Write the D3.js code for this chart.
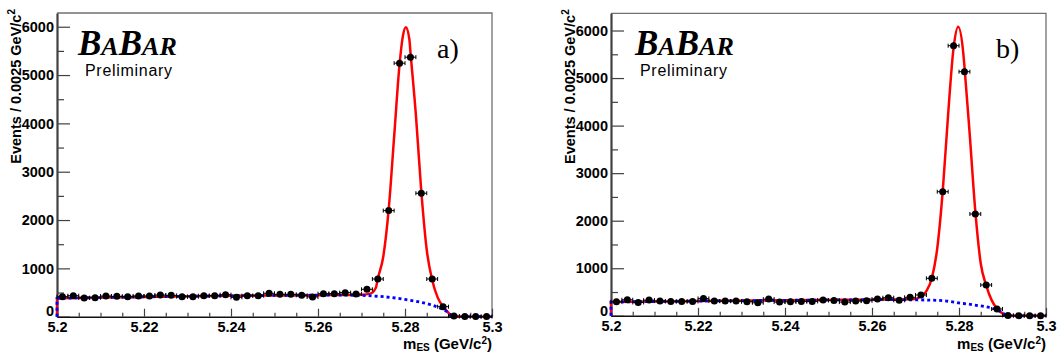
<!DOCTYPE html>
<html>
<head>
<meta charset="utf-8">
<script src="https://cdn.jsdelivr.net/npm/d3@7"></script>
<style>
  body { margin: 0; background: #fff; }
  svg { display: block; }
</style>
</head>
<body>
<svg id="chart" width="1058" height="354"></svg>
<script>
// ---------- data ----------
const massTicks = [5.2, 5.22, 5.24, 5.26, 5.28, 5.3];
const massMinor = [5.205, 5.21, 5.215, 5.225, 5.23, 5.235, 5.245, 5.25, 5.255, 5.265, 5.27, 5.275, 5.285, 5.29, 5.295];
const countTicks = [0, 1000, 2000, 3000, 4000, 5000, 6000];
const countMinor = [500, 1500, 2500, 3500, 4500, 5500];

// bin centres, 0.0025 GeV bins
const binCenters = [5.20125, 5.20375, 5.20625, 5.20875, 5.21125, 5.21375, 5.21625, 5.21875, 5.22125, 5.22375,
  5.22625, 5.22875, 5.23125, 5.23375, 5.23625, 5.23875, 5.24125, 5.24375, 5.24625, 5.24875,
  5.25125, 5.25375, 5.25625, 5.25875, 5.26125, 5.26375, 5.26625, 5.26875, 5.27125, 5.27375,
  5.27625, 5.27875, 5.28125, 5.28375, 5.28625, 5.28875, 5.29125, 5.29375, 5.29625, 5.29875];

// panel a) events per bin
const eventsA = [415, 435, 387, 394, 428, 421, 415, 428, 428, 449, 442, 415, 415, 435, 435, 456, 401, 435, 435, 484,
  463, 463, 442, 408, 477, 477, 498, 468, 567, 780, 2195, 5246, 5370, 2555, 780, 207, 12, 4, 2, 2];
// panel b) events per bin
const eventsB = [295, 337, 281, 330, 309, 302, 302, 302, 365, 309, 309, 309, 295, 274, 351, 288, 295, 302, 302, 330,
  323, 288, 309, 316, 351, 380, 325, 389, 437, 788, 2610, 5680, 5134, 2141, 648, 143, 8, 3, 2, 2];

// total fit (red)
const fitMassA = [5.2, 5.21, 5.22, 5.23, 5.24, 5.25, 5.26, 5.266, 5.27, 5.272, 5.2733, 5.27375, 5.275, 5.27625, 5.2775,
  5.27875, 5.2795, 5.2802, 5.281, 5.28125, 5.2825, 5.28375, 5.285, 5.28625, 5.2875, 5.28875, 5.2897, 5.2905, 5.291, 5.3];
const fitTotalA = [380, 396, 410, 422, 432, 440, 446, 448, 455, 478, 600, 790, 1240, 2220, 3720,
  5220, 5800, 5990, 5740, 5480, 4180, 2590, 1380, 760, 400, 210, 110, 30, 0, 0];
const fitMassB = [5.2, 5.21, 5.22, 5.23, 5.24, 5.25, 5.26, 5.266, 5.27, 5.2713, 5.2725, 5.27375, 5.275, 5.27625, 5.2775,
  5.27875, 5.2798, 5.281, 5.28125, 5.2825, 5.28375, 5.285, 5.28625, 5.2875, 5.28875, 5.2897, 5.2905, 5.291, 5.3];
const fitTotalB = [290, 300, 310, 318, 326, 333, 340, 343, 355, 416, 520, 790, 1420, 2610, 4235,
  5630, 6080, 5510, 5250, 3770, 2200, 1100, 640, 330, 150, 70, 20, 0, 0];

// background component (blue dashed)
const bgMass = [5.2, 5.21, 5.22, 5.23, 5.24, 5.25, 5.26, 5.265, 5.27, 5.275, 5.278, 5.28, 5.282, 5.284, 5.286, 5.288, 5.289, 5.29, 5.2905, 5.291, 5.3];
const bgA = [380, 396, 410, 422, 432, 440, 446, 446, 440, 414, 385, 357, 328, 292, 245, 180, 140, 80, 40, 0, 0];
const bgB = [290, 300, 310, 318, 326, 333, 338, 340, 335, 325, 300, 270, 248, 220, 192, 150, 115, 65, 30, 0, 0];

const svg = d3.select('#chart');
const sans = '"Liberation Sans", Arial, Helvetica, sans-serif';
const serif = '"Liberation Serif", "Times New Roman", serif';

function drawPanel(p) {
  const x = d3.scaleLinear().domain([5.2, 5.3]).range([p.left, p.right]);
  const y = d3.scaleLinear().domain([0, p.yMax]).range([p.bottom, p.top]);
  const g = svg.append('g');

  // top / right frame
  g.append('path')
    .attr('d', `M${p.left},${p.top}H${p.right}V${p.bottom}`)
    .attr('fill', 'none').attr('stroke', '#707070').attr('stroke-width', 1.3);

  // y axis (ticks inside)
  const yMajor = g.append('g').attr('transform', `translate(${p.left},0)`)
    .call(d3.axisLeft(y).tickValues(countTicks).tickSizeInner(-13).tickSizeOuter(0).tickPadding(3)
      .tickFormat(d => String(d)));
  g.append('g').attr('transform', `translate(${p.left},0)`)
    .call(d3.axisLeft(y).tickValues(countMinor).tickSizeInner(-7).tickSizeOuter(0).tickFormat(''))
    .select('.domain').remove();

  // x axis (ticks inside)
  const xMajor = g.append('g').attr('transform', `translate(0,${p.bottom})`)
    .call(d3.axisBottom(x).tickValues(massTicks).tickSizeInner(-8).tickSizeOuter(0).tickPadding(5)
      .tickFormat(d => String(d)));
  g.append('g').attr('transform', `translate(0,${p.bottom})`)
    .call(d3.axisBottom(x).tickValues(massMinor).tickSizeInner(-4).tickSizeOuter(0).tickFormat(''))
    .select('.domain').remove();

  g.selectAll('.tick line').attr('stroke', '#404040').attr('stroke-width', 1.2);
  yMajor.select('.domain').attr('stroke', '#404040').attr('stroke-width', 2.2);
  xMajor.select('.domain').attr('stroke', '#111').attr('stroke-width', 1.6);
  g.selectAll('.tick text')
    .attr('font-family', sans).attr('font-weight', 'bold').attr('fill', '#000');
  yMajor.selectAll('.tick text').attr('font-size', 14.5);
  // the zero label sits a little high, as in the original
  yMajor.selectAll('.tick text').filter(d => d === 0).attr('dy', '-0.05em');
  xMajor.selectAll('.tick text').attr('font-size', 14.5);

  // clip for curves
  const clipId = 'clip' + p.name;
  svg.append('clipPath').attr('id', clipId)
    .append('rect').attr('x', p.left - 2).attr('y', p.top).attr('width', p.right - p.left + 4).attr('height', p.bottom - p.top + 2);

  const line = d3.line().x(d => x(d[0])).y(d => y(d[1])).curve(d3.curveMonotoneX);
  const curvePath = pts => `M${x(pts[0][0])},${y(0)}L` + line(pts).slice(1);

  const fitPts = p.fitMass.map((m, i) => [m, p.fitTotal[i]]);
  const bgPts = bgMass.map((m, i) => [m, p.bg[i]]);

  g.append('path').attr('clip-path', `url(#${clipId})`)
    .attr('d', curvePath(fitPts))
    .attr('fill', 'none').attr('stroke', '#ff0000').attr('stroke-width', 2.5);
  g.append('path').attr('clip-path', `url(#${clipId})`)
    .attr('d', curvePath(bgPts))
    .attr('fill', 'none').attr('stroke', '#0000ff').attr('stroke-width', 2.8)
    .attr('stroke-dasharray', '3,3');

  // data points with error bars
  const pts = binCenters.map((c, i) => ({ c: c, v: p.events[i] }));
  const pg = g.append('g').attr('stroke', '#000').attr('stroke-width', 1);
  pts.forEach(d => {
    const x0 = x(d.c - 0.00125), x1 = x(d.c + 0.00125), yy = y(d.v);
    const err = Math.sqrt(d.v);
    pg.append('line').attr('x1', x0).attr('x2', x1).attr('y1', yy).attr('y2', yy);
    pg.append('line').attr('x1', x0).attr('x2', x0).attr('y1', yy - 2).attr('y2', yy + 2);
    pg.append('line').attr('x1', x1).attr('x2', x1).attr('y1', yy - 2).attr('y2', yy + 2);
    pg.append('line').attr('x1', x(d.c)).attr('x2', x(d.c)).attr('y1', y(d.v - err)).attr('y2', y(d.v + err));
  });
  g.selectAll('circle.pt').data(pts).enter().append('circle')
    .attr('class', 'pt')
    .attr('cx', d => x(d.c)).attr('cy', d => y(d.v)).attr('r', 3.5)
    .attr('fill', '#000');

  // axis titles
  const yt = g.append('text')
    .attr('transform', `translate(${p.titleX},${p.top - 4}) rotate(-90)`)
    .attr('text-anchor', 'end')
    .attr('font-family', sans).attr('font-weight', 'bold').attr('font-size', 14.5);
  yt.append('tspan').text('Events / 0.0025 GeV/c');
  yt.append('tspan').attr('dy', -6).attr('font-size', 10).text('2');

  const xt = g.append('text')
    .attr('x', p.right).attr('y', 349)
    .attr('text-anchor', 'end')
    .attr('font-family', sans).attr('font-weight', 'bold').attr('font-size', 15);
  xt.append('tspan').text('m');
  xt.append('tspan').attr('dy', 2).attr('font-size', 10).text('ES');
  xt.append('tspan').attr('dy', -2).text(' (GeV/c');
  xt.append('tspan').attr('dy', -5).attr('font-size', 10).text('2');
  xt.append('tspan').attr('dy', 5).text(')');

  // BaBar logo
  const logo = g.append('text')
    .attr('x', p.logoX).attr('y', 55)
    .attr('font-family', serif).attr('font-weight', 'bold').attr('font-style', 'italic');
  [['B', 35], ['A', 26], ['B', 35], ['AR', 26]].forEach(s => {
    logo.append('tspan').attr('font-size', s[1]).text(s[0]);
  });
  g.append('text')
    .attr('x', p.prelimX).attr('y', 76)
    .attr('font-family', sans).attr('font-size', 16).attr('letter-spacing', 0.7)
    .text('Preliminary');

  // panel label
  g.append('text')
    .attr('x', p.labelX).attr('y', 58)
    .attr('font-family', serif).attr('font-size', 28)
    .text(p.label);
}

drawPanel({ name: 'A', left: 57, right: 492, top: 13, bottom: 316.7, yMax: 6284,
  events: eventsA, fitMass: fitMassA, fitTotal: fitTotalA, bg: bgA,
  titleX: 21, logoX: 78, prelimX: 85, labelX: 437, label: 'a)' });
drawPanel({ name: 'B', left: 611, right: 1046, top: 13.3, bottom: 315.8, yMax: 6362,
  events: eventsB, fitMass: fitMassB, fitTotal: fitTotalB, bg: bgB,
  titleX: 575, logoX: 635, prelimX: 640, labelX: 996, label: 'b)' });
</script>
</body>
</html>
